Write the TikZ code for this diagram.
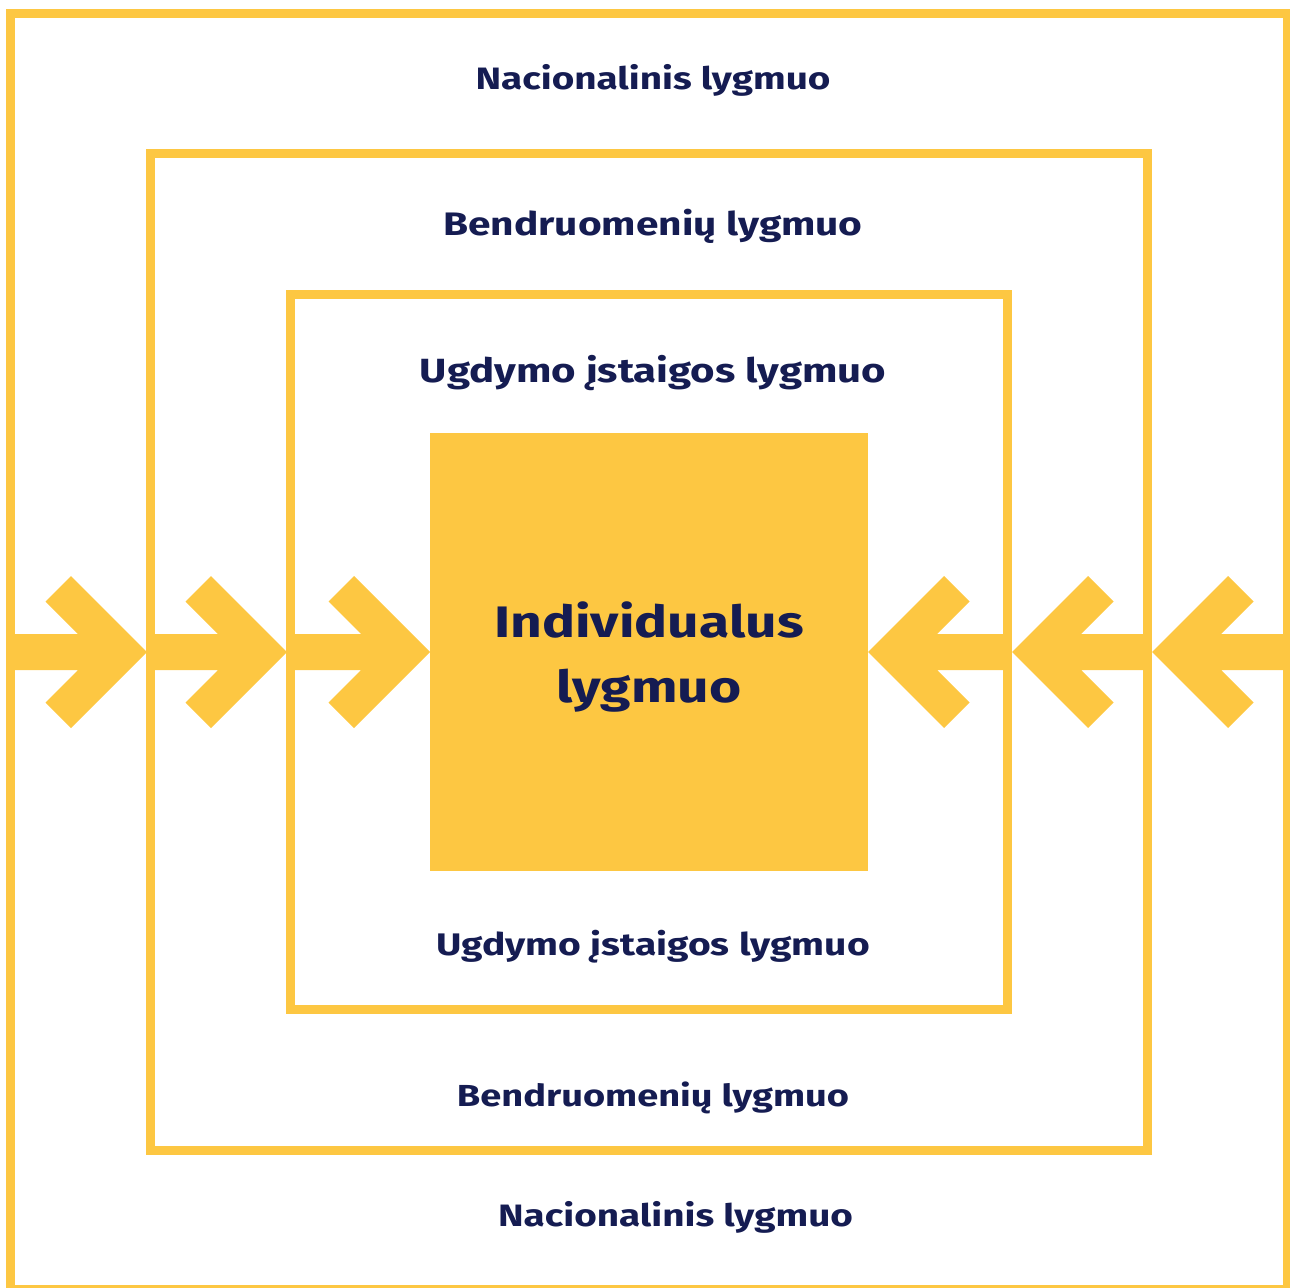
\documentclass[tikz,border=0pt]{standalone}
\usepackage{fontspec}
\setmainfont{Fira Sans}[FakeStretch=1.25]

\definecolor{lvlyellow}{RGB}{253,199,66}
\definecolor{lvlnavy}{RGB}{21,28,82}

\tikzset{
	frame/.style={draw=lvlyellow, line width=0.18cm},
	chevron/.style={fill=lvlyellow},
	lbl/.style={text=lvlnavy, anchor=base, inner sep=0pt, font=\bfseries\fontsize{#1}{#1}\selectfont},
	lbl/.default=17.6,
	core/.style={text=lvlnavy, anchor=base, inner sep=0pt, align=center, font=\bfseries\fontsize{25.1}{36.8}\selectfont},
}

\begin{document}
\begin{tikzpicture}[x=0.02cm, y=-0.02cm]
	\useasboundingbox (0, 0) rectangle (1290, 1287);

	% level frames
	\draw[frame]	(10.5, 13.5) rectangle (1287, 1289.5);
	\draw[frame]	(150.5, 153.5) rectangle (1147.5, 1150);
	\draw[frame]	(290.5, 294.5) rectangle (1007.5, 1009.5);
	\fill[lvlyellow]	(430, 433) rectangle (868, 871);

	% arrows from the left
	\foreach \t/\s in {147/10, 287/150, 430/290}
		\fill[chevron]	(\s, 634) -- (\t-69, 634) -- (\t-101.5, 601.5) -- (\t-76, 576) -- (\t, 652)
						-- (\t-76, 728) -- (\t-101.5, 702.5) -- (\t-69, 670) -- (\s, 670) -- cycle;

	% arrows from the right
	\foreach \t/\s in {868/1008, 1012/1148, 1152/1292}
		\fill[chevron]	(\s, 634) -- (\t+69, 634) -- (\t+101.5, 601.5) -- (\t+76, 576) -- (\t, 652)
						-- (\t+76, 728) -- (\t+101.5, 702.5) -- (\t+69, 670) -- (\s, 670) -- cycle;

	\node[lbl]			(nacTop)	at (653, 90)	{Nacionalinis lygmuo};
	\node[lbl=18.5]		(bendTop)	at (653, 236)	{Bendruomenių lygmuo};
	\node[lbl=19.1]		(ugdTop)	at (653, 382)	{Ugdymo įstaigos lygmuo};
	\node[core]			(indiv)		at (649, 702)	{Individualus\\lygmuo};
	\node[lbl=17.75]	(ugdBot)	at (653, 955)	{Ugdymo įstaigos lygmuo};
	\node[lbl=17.3]		(bendBot)	at (653, 1106)	{Bendruomenių lygmuo};
	\node[lbl]			(nacBot)	at (675.5, 1226)	{Nacionalinis lygmuo};
\end{tikzpicture}
\end{document}
